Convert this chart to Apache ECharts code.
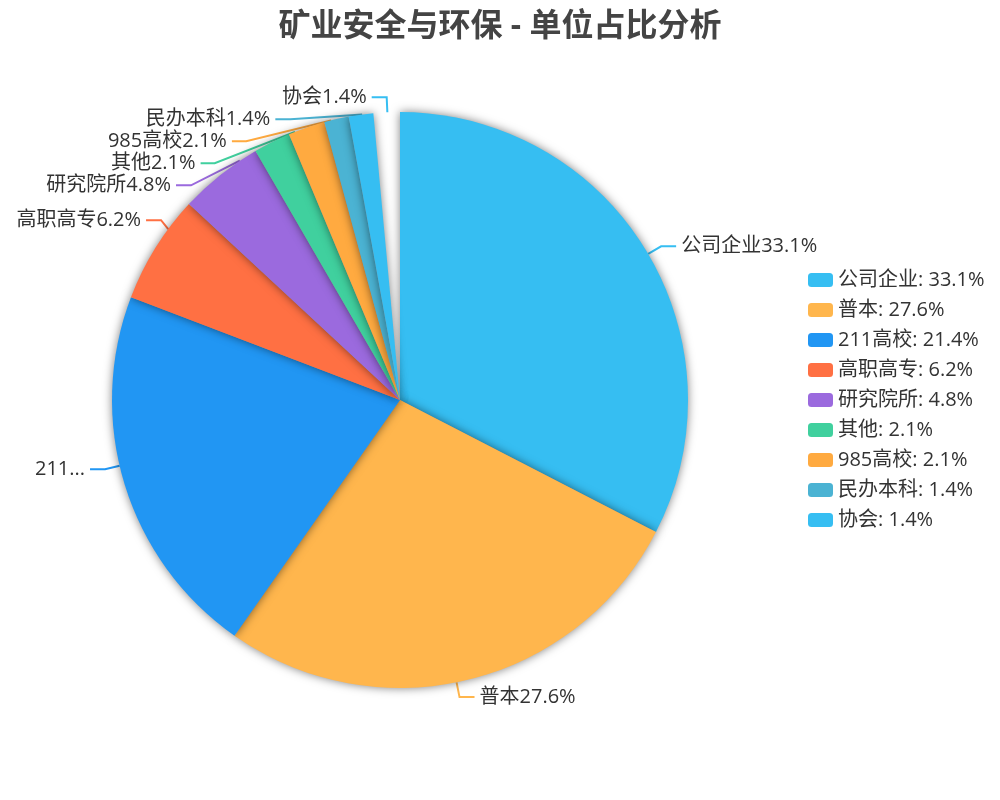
<!DOCTYPE html>
<html>
<head>
<meta charset="utf-8">
<script src="https://cdn.jsdelivr.net/npm/echarts@6/dist/echarts.min.js"></script>
<style>
html,body{margin:0;padding:0;background:#fff;}
#main{width:1000px;height:800px;}
</style>
</head>
<body>
<div id="main"></div>
<script>
var titleText = '矿业安全与环保 - 单位占比分析';
var categories = ['公司企业', '普本', '211高校', '高职高专', '研究院所', '其他', '985高校', '民办本科', '协会'];
var percents = [33.1, 27.6, 21.4, 6.2, 4.8, 2.1, 2.1, 1.4, 1.4];
var colors = ['#36BEF2', '#FFB64D', '#2196F3', '#FF7043', '#9B6ADE', '#40D09E', '#FFAA40', '#4BB3D3', '#36BEF2'];
// the reference was captured before the sweep finished: an empty wedge remains at the top
var gapValue = 1.5;

var FONT = '"Open Sans", "Noto Sans CJK SC", sans-serif';
var CENTER = ['40%', '50%'];
var RADIUS = '72%';

// visible sectors (with the unfinished wedge)
var sectorData = categories.map(function (c, i) {
  return { name: c, value: percents[i], itemStyle: { color: colors[i] } };
});
sectorData.push({
  name: '__gap__', value: gapValue,
  itemStyle: { color: 'rgba(0,0,0,0)', shadowBlur: 0, shadowColor: 'rgba(0,0,0,0)' },
  label: { show: false }, labelLine: { show: false },
  emphasis: { disabled: true }, tooltip: { show: false }
});

// labels at their final positions
var labelData = categories.map(function (c, i) {
  return {
    name: c, value: percents[i],
    itemStyle: { color: 'rgba(0,0,0,0)' },
    labelLine: { lineStyle: { color: colors[i] } }
  };
});

var chart = echarts.init(document.getElementById('main'));
chart.setOption({
  backgroundColor: '#fff',
  title: {
    text: titleText,
    left: 'center',
    top: 6,
    textStyle: { fontSize: 32, fontWeight: 'bold', color: '#444', fontFamily: FONT }
  },
  legend: {
    orient: 'vertical',
    left: 803,
    top: 'middle',
    itemWidth: 25,
    itemHeight: 14,
    itemGap: 10,
    data: categories.map(function (c, i) { return { name: c, itemStyle: { color: colors[i] } }; }),
    textStyle: { fontSize: 20, color: '#333', fontFamily: FONT },
    formatter: function (name) {
      var i = categories.indexOf(name);
      return name + ': ' + percents[i] + '%';
    }
  },
  series: [{
    type: 'pie',
    center: CENTER,
    radius: RADIUS,
    startAngle: 90,
    clockwise: true,
    animation: false,
    data: sectorData,
    itemStyle: {
      borderWidth: 0,
      shadowBlur: 10,
      shadowColor: 'rgba(0,0,0,0.5)'
    },
    label: { show: false },
    labelLine: { show: false }
  }, {
    type: 'pie',
    center: CENTER,
    radius: RADIUS,
    startAngle: 90,
    clockwise: true,
    animation: false,
    silent: true,
    data: labelData,
    itemStyle: { borderWidth: 0 },
    label: {
      show: true,
      fontSize: 20,
      color: '#333',
      fontFamily: FONT,
      formatter: function (p) { return p.name + p.value + '%'; }
    },
    labelLine: { length: 15, length2: 15, lineStyle: { width: 2 } }
  }]
});
</script>
</body>
</html>
